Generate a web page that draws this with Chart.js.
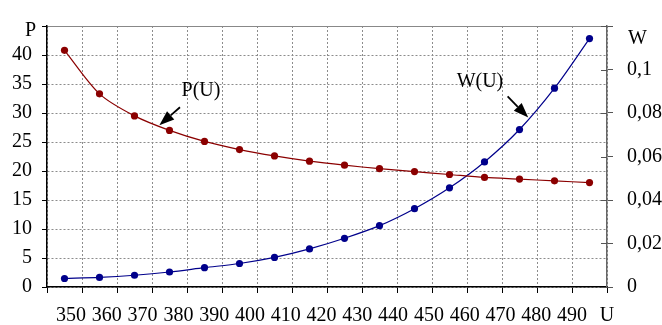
<!DOCTYPE html>
<html>
<head>
<meta charset="utf-8">
<script src="https://cdn.jsdelivr.net/npm/chart.js@4"></script>
<style>
  html, body { margin: 0; padding: 0; background: #fff; }
</style>
</head>
<body>
<canvas id="chart" width="662" height="325"></canvas>
<script>
// tick labels on the U axis, and the axis name
const uTicks = [350, 360, 370, 380, 390, 400, 410, 420, 430, 440, 450, 460, 470, 480, 490];
const uName = 'U';
// one slot per measured point (16 points)
const categories = [...uTicks.map(String), uName];

// P(U), left axis
const pValues = [40.8, 33.3, 29.5, 27.0, 25.1, 23.7, 22.6, 21.7, 21.0, 20.4, 19.9, 19.4, 18.9, 18.6, 18.3, 18.0];
// W(U), right axis
const wValues = [0.0039, 0.0044, 0.0054, 0.0069, 0.0089, 0.0108, 0.0136, 0.0175, 0.0224, 0.0282, 0.0360, 0.0456, 0.0575, 0.0724, 0.0914, 0.1142];

const pColor = '#8b0000';
const wColor = '#00008b';
const gridColor = '#8c8c8c';
const fontFamily = '"Liberation Serif", "DejaVu Serif", serif';

Chart.defaults.font.family = fontFamily;
Chart.defaults.font.size = 20;
Chart.defaults.color = '#000';

// curve labels with arrows, placed in data coordinates
const notes = [
  { text: 'P(U)', axis: 'y', label: [3.9, 33.9], from: [3.3, 31.0], to: [2.71, 27.9] },
  { text: 'W(U)', axis: 'y2', label: [11.87, 0.0945], from: [12.66, 0.0876], to: [13.25, 0.0779] }
];

function drawArrow(ctx, x1, y1, x2, y2) {
  const a = Math.atan2(y2 - y1, x2 - x1);
  const len = 15, hw = 5.5;
  const bx = x2 - len * Math.cos(a), by = y2 - len * Math.sin(a);
  ctx.beginPath();
  ctx.moveTo(x1, y1);
  ctx.lineTo(bx, by);
  ctx.lineWidth = 1.8;
  ctx.stroke();
  ctx.beginPath();
  ctx.moveTo(x2, y2);
  ctx.lineTo(bx + hw * Math.sin(a), by - hw * Math.cos(a));
  ctx.lineTo(bx - hw * Math.sin(a), by + hw * Math.cos(a));
  ctx.closePath();
  ctx.fill();
}

const notesPlugin = {
  id: 'notes',
  afterDraw(chart) {
    const {ctx, chartArea, scales} = chart;
    const x = scales.x, y2 = scales.y2;
    ctx.save();
    // inner half of the right axis tick marks
    ctx.strokeStyle = '#555';
    ctx.lineWidth = 1;
    y2.ticks.forEach(t => {
      const py = Math.round(y2.getPixelForValue(t.value)) + 0.5;
      ctx.beginPath();
      ctx.moveTo(chartArea.right - 6, py);
      ctx.lineTo(chartArea.right, py);
      ctx.stroke();
    });
    // axis names
    ctx.fillStyle = '#000';
    ctx.strokeStyle = '#000';
    ctx.font = '20px ' + fontFamily;
    ctx.textBaseline = 'middle';
    ctx.textAlign = 'right';
    ctx.fillText('P', scales.y.right - 11, chartArea.top + 5);
    ctx.textAlign = 'left';
    ctx.fillText('W', y2.left + 21, chartArea.top + 13);
    // curve names
    ctx.textAlign = 'center';
    notes.forEach(n => {
      const ys = scales[n.axis];
      ctx.fillText(n.text, x.getPixelForValue(n.label[0]), ys.getPixelForValue(n.label[1]));
      drawArrow(ctx,
        x.getPixelForValue(n.from[0]), ys.getPixelForValue(n.from[1]),
        x.getPixelForValue(n.to[0]), ys.getPixelForValue(n.to[1]));
    });
    ctx.restore();
  }
};

new Chart(document.getElementById('chart'), {
  type: 'line',
  data: {
    labels: categories,
    datasets: [
      {
        label: 'P(U)', data: pValues, yAxisID: 'y',
        borderColor: pColor, backgroundColor: pColor, borderWidth: 1.2,
        pointRadius: 3.6, pointBorderWidth: 0, tension: 0.3
      },
      {
        label: 'W(U)', data: wValues, yAxisID: 'y2',
        borderColor: wColor, backgroundColor: wColor, borderWidth: 1.2,
        pointRadius: 3.6, pointBorderWidth: 0, tension: 0.3
      }
    ]
  },
  options: {
    responsive: false,
    animation: false,
    layout: { padding: { top: 14, left: 0, right: 0, bottom: 0 } },
    plugins: { legend: { display: false }, tooltip: { enabled: false } },
    scales: {
      x: {
        type: 'category',
        position: 'bottom',
        weight: 0,
        offset: true,
        grid: { offset: true, color: gridColor, tickColor: '#000', tickLength: 6, lineWidth: 1 },
        border: { color: '#000', width: 1.5, dash: [2, 2] },
        ticks: { display: false },
        afterFit: s => { s.height = 6; }
      },
      x2: {
        type: 'linear',
        position: 'bottom',
        weight: 1,
        min: 343.29,
        max: 499.76,
        grid: { display: false, drawTicks: false },
        border: { display: false },
        afterBuildTicks: s => {
          s.ticks = uTicks.map(v => ({ value: v })).concat([{ value: s.max }]);
        },
        ticks: {
          autoSkip: false, maxRotation: 0, padding: 11,
          callback: (v, i) => i < uTicks.length ? String(uTicks[i]) : uName
        },
        afterFit: s => { s.height = 32; }
      },
      y: {
        position: 'left',
        min: 0, max: 45,
        ticks: {
          stepSize: 5, padding: 10,
          callback: v => v === 45 ? '' : v
        },
        grid: {
          color: ctx => ctx.tick && ctx.tick.value === 45 ? '#888' : gridColor,
          tickColor: '#000', tickLength: 5, lineWidth: 1
        },
        border: {
          color: '#000', width: 1.5,
          dash: ctx => ctx.tick && ctx.tick.value === 45 ? [] : [2, 2]
        },
        afterFit: s => { s.width = 47; }
      },
      y2: {
        position: 'right',
        min: 0, max: 0.12,
        ticks: {
          stepSize: 0.02, padding: 14,
          callback: v => v > 0.119 ? '' : String(+v.toFixed(2)).replace('.', ',')
        },
        grid: { drawOnChartArea: false, tickColor: '#555', tickLength: 6 },
        border: { color: '#666', width: 1.5 },
        afterFit: s => { s.width = 55; }
      }
    }
  },
  plugins: [notesPlugin]
});
</script>
</body>
</html>
